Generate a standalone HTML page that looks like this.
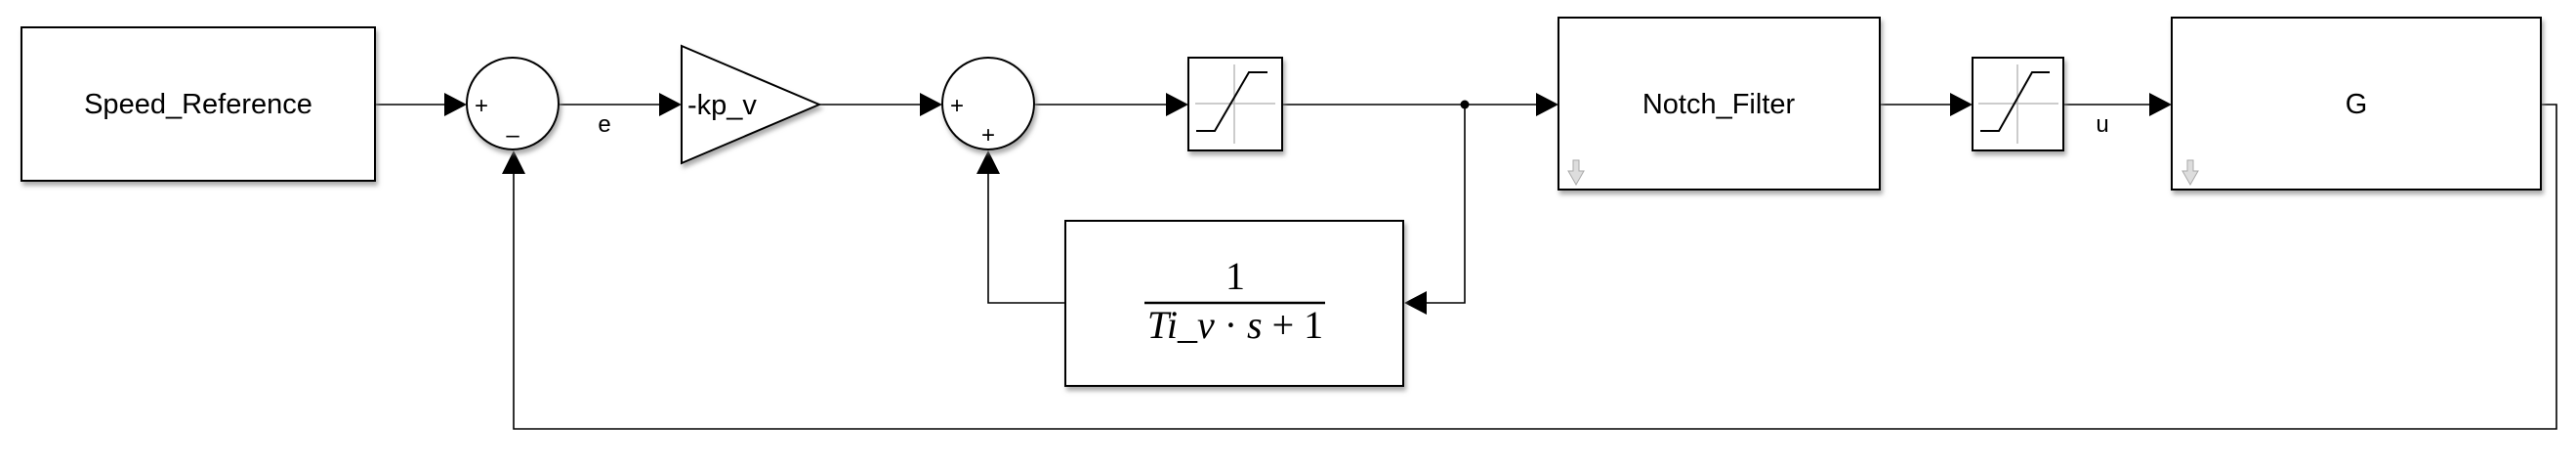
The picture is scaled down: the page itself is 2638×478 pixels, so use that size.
<!DOCTYPE html>
<html><head><meta charset="utf-8"><style>
html,body{margin:0;padding:0;background:#fff;}
svg{display:block;}
text{font-family:"Liberation Sans",sans-serif;}
</style></head><body>
<svg width="2638" height="478" viewBox="0 0 2638 478" xmlns="http://www.w3.org/2000/svg">
<defs>
<filter id="sh" x="-5%" y="-5%" width="115%" height="120%"><feDropShadow dx="2" dy="4" stdDeviation="2.5" flood-color="#888" flood-opacity="0.7"/></filter>
</defs>
<g fill="none" stroke="#000" stroke-width="1.6">
<line x1="385" y1="107" x2="458" y2="107"/>
<line x1="572" y1="107" x2="676" y2="107"/>
<line x1="839" y1="107" x2="945" y2="107"/>
<line x1="1059" y1="107" x2="1197" y2="107"/>
<line x1="1313" y1="107" x2="1576" y2="107"/>
<line x1="1925" y1="107" x2="2000" y2="107"/>
<line x1="2113" y1="107" x2="2204" y2="107"/>
<polyline points="1500,107 1500,310 1461,310"/>
<polyline points="1091,310 1012,310 1012,178"/>
<polyline points="2602,107 2618,107 2618,439 526,439 526,178"/>
</g>
<g fill="#000">
<polygon points="455,95 478,107 455,119"/>
<polygon points="675,95 698,107 675,119"/>
<polygon points="942,95 965,107 942,119"/>
<polygon points="1194,95 1217,107 1194,119"/>
<polygon points="1573,95 1596,107 1573,119"/>
<polygon points="1997,95 2020,107 1997,119"/>
<polygon points="2201,95 2224,107 2201,119"/>
<polygon points="1461,298 1438,310 1461,322"/>
<polygon points="1000,178 1012,154 1024,178"/>
<polygon points="514,178 526,154 538,178"/>
<circle cx="1500" cy="107" r="4.5"/>
</g>
<g>
<rect x="22" y="28" width="362" height="157" fill="#fff" stroke="#000" stroke-width="2" filter="url(#sh)"/>
<text x="203" y="116" font-size="29" text-anchor="middle">Speed_Reference</text>
</g>
<g>
<circle cx="525" cy="106" r="47" fill="#fff" stroke="#000" stroke-width="2" filter="url(#sh)"/>
<text x="493" y="116" font-size="24" text-anchor="middle">+</text>
<text x="525" y="146" font-size="24" text-anchor="middle">–</text>
</g>
<text x="619" y="135" font-size="24" text-anchor="middle">e</text>
<g>
<polygon points="698,47 839,107 698,167" fill="#fff" stroke="#000" stroke-width="2" filter="url(#sh)"/>
<text x="704" y="117" font-size="29">-kp_v</text>
</g>
<g>
<circle cx="1012" cy="106" r="47" fill="#fff" stroke="#000" stroke-width="2" filter="url(#sh)"/>
<text x="980" y="116" font-size="24" text-anchor="middle">+</text>
<text x="1012" y="146" font-size="24" text-anchor="middle">+</text>
</g>
<g>
<rect x="1217" y="59" width="96" height="95" fill="#fff" stroke="#000" stroke-width="2" filter="url(#sh)"/>
<line x1="1264" y1="66" x2="1264" y2="147" stroke="#bbb" stroke-width="1.5"/>
<line x1="1224" y1="106" x2="1306" y2="106" stroke="#bbb" stroke-width="1.5"/>
<polyline points="1225,134 1244,134 1279,74 1298,74" fill="none" stroke="#000" stroke-width="2"/>
</g>
<g>
<rect x="1091" y="226" width="346" height="169" fill="#fff" stroke="#000" stroke-width="2" filter="url(#sh)"/>
<text x="1265" y="296" text-anchor="middle" style="font-family:'Liberation Serif',serif;font-size:40px;">1</text>
<line x1="1172" y1="310" x2="1357" y2="310" stroke="#000" stroke-width="2.5"/>
<text x="1265" y="346" text-anchor="middle" style="font-family:'Liberation Serif',serif;font-size:40px;"><tspan font-style="italic">Ti_v</tspan> · <tspan font-style="italic">s</tspan> + 1</text>
</g>
<g>
<rect x="1596" y="18" width="329" height="176" fill="#fff" stroke="#000" stroke-width="2" filter="url(#sh)"/>
<text x="1760" y="116" font-size="29" text-anchor="middle">Notch_Filter</text>
<polygon points="1611,164 1617,164 1617,175 1622,175 1614,189 1606,175 1611,175" fill="#ddd" stroke="#aaa" stroke-width="1"/>
</g>
<g>
<rect x="2020" y="59" width="93" height="95" fill="#fff" stroke="#000" stroke-width="2" filter="url(#sh)"/>
<line x1="2066" y1="66" x2="2066" y2="147" stroke="#bbb" stroke-width="1.5"/>
<line x1="2026" y1="106" x2="2108" y2="106" stroke="#bbb" stroke-width="1.5"/>
<polyline points="2028,134 2047,134 2081,74 2099,74" fill="none" stroke="#000" stroke-width="2"/>
</g>
<text x="2153" y="135" font-size="24" text-anchor="middle">u</text>
<g>
<rect x="2224" y="18" width="378" height="176" fill="#fff" stroke="#000" stroke-width="2" filter="url(#sh)"/>
<text x="2413" y="116" font-size="29" text-anchor="middle">G</text>
<polygon points="2240,164 2246,164 2246,175 2251,175 2243,189 2235,175 2240,175" fill="#ddd" stroke="#aaa" stroke-width="1"/>
</g>
</svg>
</body></html>
